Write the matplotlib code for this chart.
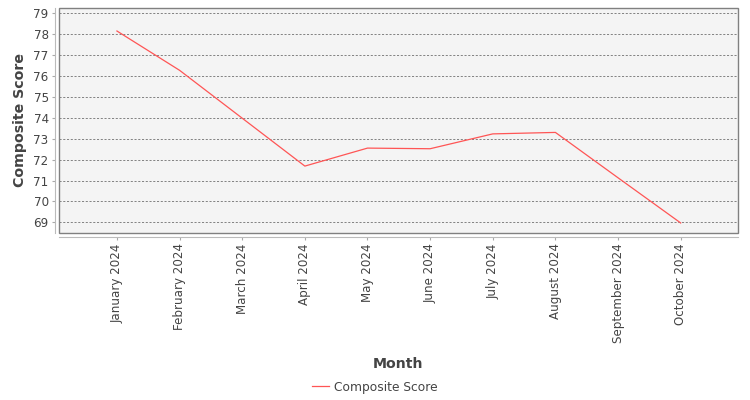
import matplotlib
matplotlib.use("Agg")
import matplotlib.pyplot as plt
from matplotlib.patches import Rectangle

months = ["January 2024", "February 2024", "March 2024", "April 2024", "May 2024",
          "June 2024", "July 2024", "August 2024", "September 2024", "October 2024"]
scores = [78.15, 76.27, 73.98, 71.69, 72.55, 72.52, 73.23, 73.30, 71.13, 68.97]
yticks = [69, 70, 71, 72, 73, 74, 75, 76, 77, 78, 79]

plt.rcParams['font.family'] = ['DejaVu Sans']
W, H = 750, 400
fig = plt.figure(figsize=(7.5, 4), dpi=100)
L, R, B, T = 59, 738, 233, 8
ax = fig.add_axes([L / W, 1 - B / H, (R - L) / W, (B - T) / H])
ax.set_facecolor("#F4F4F4")

x = list(range(len(months)))
ax.plot(x, scores, color="#FF5555", lw=0.9, label="Composite Score", zorder=3)

ax.set_xlim(-0.925, len(months) - 1 + 0.915)
ax.set_ylim(68.49, 79.25)
ax.set_yticks(yticks)
ax.set_xticks(x)
ax.set_xticklabels(months)

ax.grid(axis='y', color="#707070", lw=0.6, linestyle=(0, (2.5, 2)))
ax.grid(axis='x', visible=False)

for s in ["top", "right"]:
    ax.spines[s].set_visible(False)
for s in ["left", "bottom"]:
    ax.spines[s].set_position(("outward", 2.9))
    ax.spines[s].set_color("#BBBBBB")
    ax.spines[s].set_linewidth(0.8)

ax.add_patch(Rectangle((0, 0), 1, 1, transform=ax.transAxes, fill=False,
                       edgecolor="#808080", lw=1.0, zorder=4, clip_on=False))

ax.tick_params(axis='both', colors="#AAAAAA", length=2.5, width=0.8,
               labelcolor="#444444", labelsize=8.6, pad=2)
ax.tick_params(axis='x', labelrotation=90)

fig.text(20 / W, 1 - 120 / H, "Composite Score", rotation=90, ha="center", va="center",
         fontsize=10.2, fontweight="bold", color="#444444")
fig.text(398 / W, 1 - 364 / H, "Month", ha="center", va="center",
         fontsize=10.2, fontweight="bold", color="#444444")

leg = fig.legend(loc="center", bbox_to_anchor=(375 / W, 1 - 387 / H), frameon=False,
                 fontsize=8.8, handlelength=1.4, handletextpad=0.4)
for t in leg.get_texts():
    t.set_color("#444444")

fig.savefig("out.png", dpi=100)
